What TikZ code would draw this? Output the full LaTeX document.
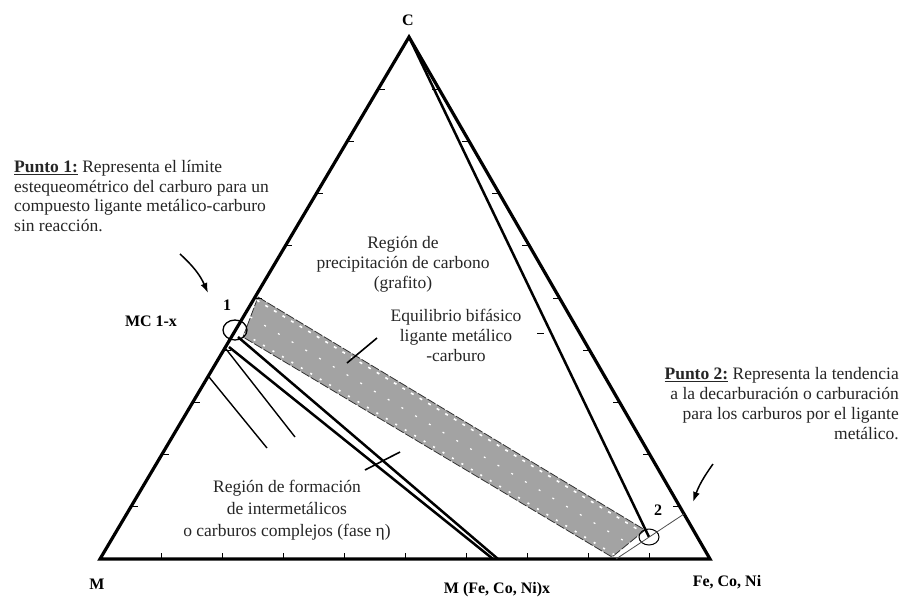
\documentclass[tikz,border=0pt]{standalone}
\usepackage{fontspec}
\setmainfont{Liberation Serif}
\usetikzlibrary{arrows.meta,calc}
\begin{document}
\begin{tikzpicture}[x=1pt,y=-1pt,
  edge/.style={line width=3.2pt, line join=miter},
  heavy/.style={line width=2.5pt},
  thinln/.style={line width=1.4pt},
  tickln/.style={line width=1pt},
  txt/.style={font=\fontsize{17.5}{20}\selectfont, inner sep=0pt, text=black!85},
  blbl/.style={font=\fontsize{16}{19}\selectfont\bfseries, inner sep=0pt},
  ptr/.style={line width=1.5pt, -{Latex[length=10pt,width=7pt]}},
  ring/.style={line width=1.3pt},
  band/.style={fill=black!36, draw=black!80, line width=0.8pt, dash pattern=on 9pt off 2pt},
]
\useasboundingbox (0,0) rectangle (902,598);
% vertices
\coordinate (C) at (409,37);
\coordinate (M) at (100,559);
\coordinate (F) at (710,559);
% band corners
\coordinate (b1) at (258,297);
\coordinate (b2) at (645,530);
\coordinate (b3) at (612,557);
\coordinate (b4) at (243,337);
\path[band] (b1) -- (b2) -- (b3) -- (b4) -- cycle;
\draw[white, line width=1.6pt, dash pattern=on 3pt off 7pt] ($(b1)!0.08!(b4)$) -- ($(b2)!0.08!(b3)$);
\draw[white, line width=1.6pt, dash pattern=on 2pt off 9pt] ($(b1)!0.92!(b4)$) -- ($(b2)!0.92!(b3)$);
\draw[white, line width=1.2pt, dash pattern=on 2pt off 14pt] ($(b1)!0.5!(b4)$) -- ($(b2)!0.5!(b3)$);
% triangle
\draw[edge] (M) -- (C) -- (F) -- cycle;
% ticks
\foreach \k in {1,...,9}{
  \draw[tickln] (100+30.9*\k, 559-52.2*\k) -- ++(7,0);
  \draw[tickln] (710-30.1*\k, 559-52.2*\k) -- ++(-7,0);
  \draw[tickln] (100+61*\k, 559) -- ++(0,-6);
}
\coordinate (d1) at (537,333);
\draw[tickln] (d1) -- ++(7,0);
% inner line from C to point 2
\coordinate (P2) at (649,537);
\draw[heavy] (C) -- (P2);
% lines from point 1
\coordinate (P1) at (235,330);
\coordinate (a1) at (238,337);
\coordinate (a2) at (498,559);
\coordinate (a3) at (229,347);
\coordinate (a4) at (493,559);
\draw[heavy] (a1) -- (a2);
\draw[heavy] (a3) -- (a4);
\coordinate (t1) at (226,349);
\coordinate (t2) at (295,437);
\coordinate (t3) at (209,377);
\coordinate (t4) at (267,448);
\draw[thinln] (t1) -- (t2);
\draw[thinln] (t3) -- (t4);
% circles
\draw[ring] (P1) ellipse [x radius=12, y radius=10];
\draw[line width=1pt] (P2) ellipse [x radius=10, y radius=8];
\coordinate (e1) at (616,559);
\coordinate (e2) at (684,514);
\draw[line width=0.8pt, black!70] (e1) -- (e2);
% pointer lines
\coordinate (q1) at (377,338);
\coordinate (q2) at (347,363);
\draw[line width=1.6pt] (q1) -- (q2);
\coordinate (r1) at (365,470);
\coordinate (r2) at (400,452);
\draw[line width=1.6pt] (r1) -- (r2);
% arrows
\coordinate (s1) at (180,254);
\coordinate (s2) at (208,293);
\draw[ptr] (s1) to[bend left=12] (s2);
\coordinate (u1) at (713,464);
\coordinate (u2) at (693,502);
\draw[ptr] (u1) to[bend right=8] (u2);
% labels
\node[blbl] (lC) at (408,20) {C};
\node[blbl] (lM) at (97,584) {M};
\node[blbl] (lMx) at (497,590) {M (Fe, Co, Ni)x};
\node[blbl] (lF) at (727,582) {Fe, Co, Ni};
\node[blbl] (lMC) at (151,321) {MC 1-x};
\node[blbl] (l1) at (227,305) {1};
\node[blbl] (l2) at (658,510) {2};
% texts
\node[txt, align=center] (tg) at (403,264) {Región de\\precipitación de carbono\\(grafito)};
\node[txt, align=center] (te) at (456,335) {Equilibrio bifásico\\ligante metálico\\-carburo};
\node[txt, align=center, font=\fontsize{17.5}{22}\selectfont] (tf) at (287,510) {Región de formación\\de intermetálicos\\o carburos complejos (fase η)};
\node[txt, align=left, anchor=west, font=\fontsize{17.5}{19.5}\selectfont] (tp1) at (14,196) {\textbf{\underline{Punto 1:}} Representa el límite\\estequeométrico del carburo para un\\compuesto ligante metálico-carburo\\sin reacción.};
\node[txt, align=right, anchor=east] (tp2) at (899,404) {\textbf{\underline{Punto 2:}} Representa la tendencia\\a la decarburación o carburación\\para los carburos por el ligante\\metálico.};
\end{tikzpicture}
\end{document}
